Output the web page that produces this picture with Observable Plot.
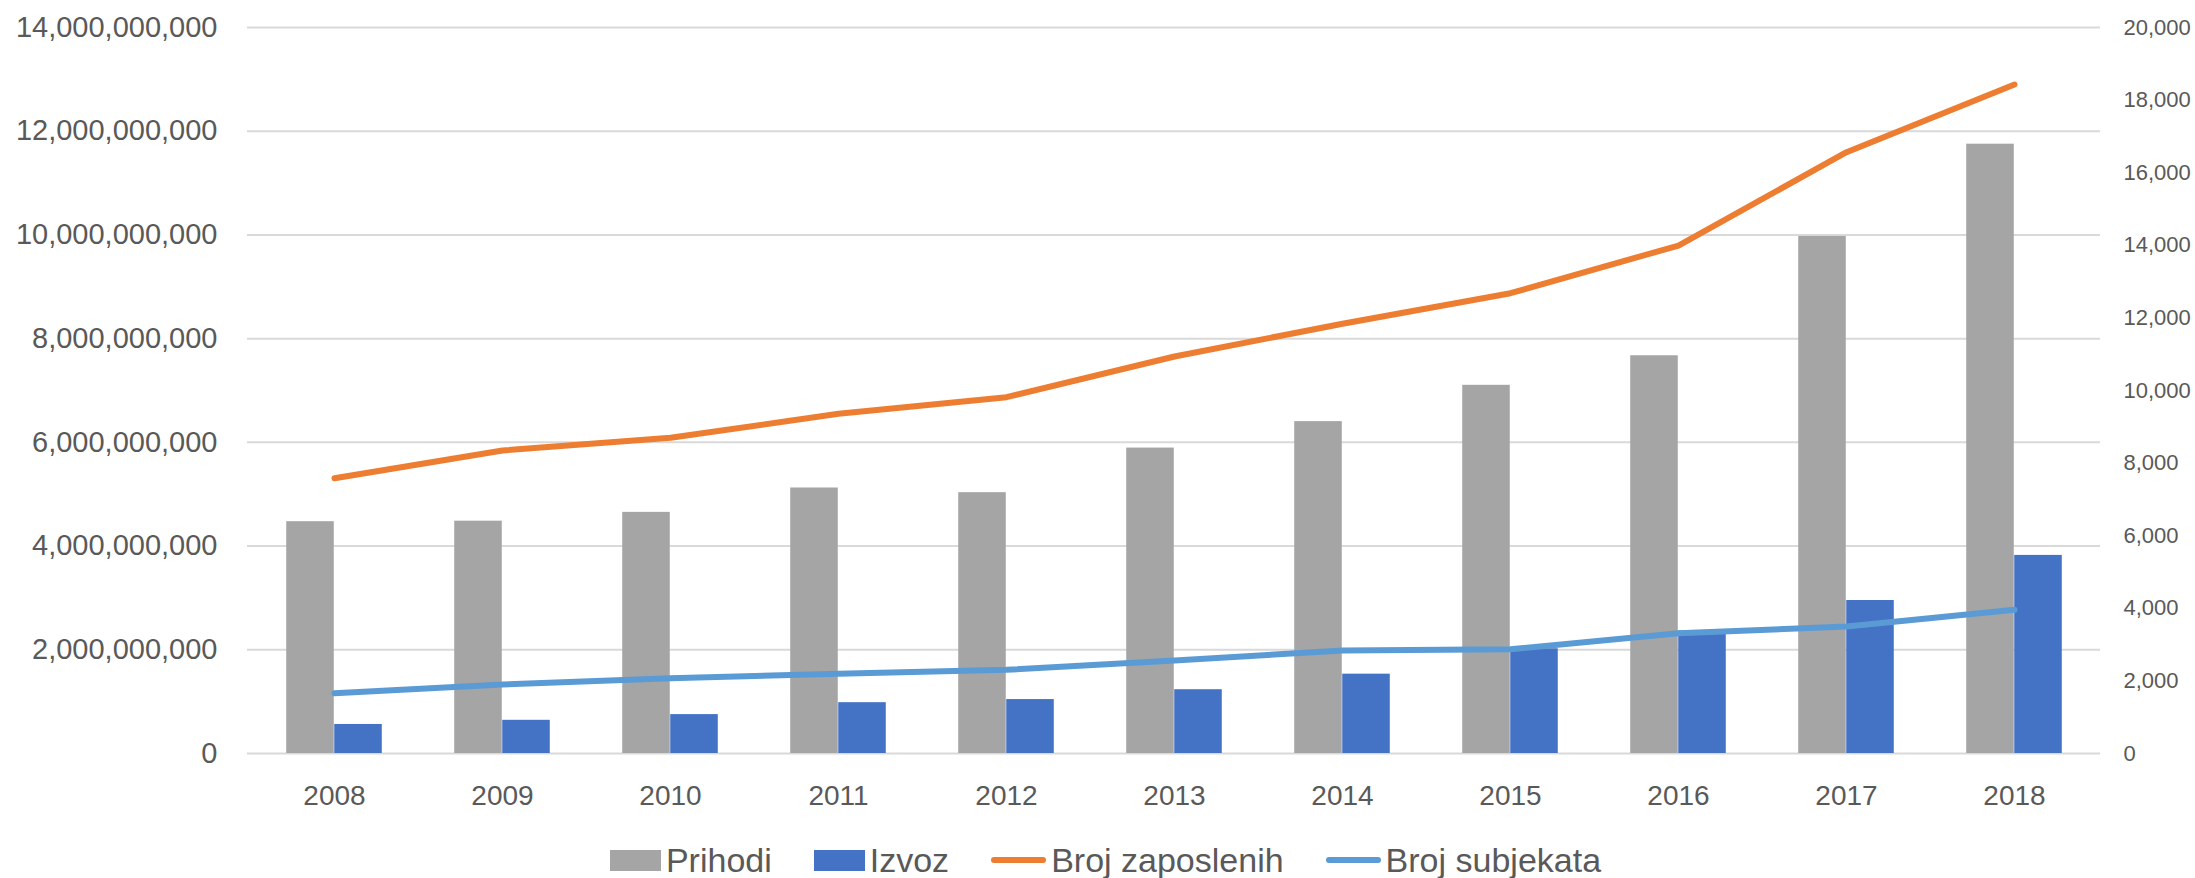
<!DOCTYPE html>
<html>
<head>
<meta charset="utf-8">
<script src="https://cdn.jsdelivr.net/npm/d3@7"></script>
<script src="https://cdn.jsdelivr.net/npm/@observablehq/plot@0.6"></script>
<style>
  html, body { margin: 0; padding: 0; background: #ffffff; }
  body { width: 2195px; height: 878px; overflow: hidden; font-family: "Liberation Sans", Arial, sans-serif; }
  #legend { display: flex; justify-content: center; align-items: center; height: 34px; margin-top: 23px; padding-left: 16px; color: #595959; font-size: 34px; line-height: 34px; }
  .item { display: flex; align-items: center; }
  .item + .item { margin-left: 42px; }
  .rect { width: 51px; height: 21px; margin-right: 5px; }
  .line { width: 55px; height: 6px; border-radius: 3px; margin-right: 5px; }
</style>
</head>
<body>
<div id="chart"></div>
<div id="legend"></div>
<script>
const years = ["2008","2009","2010","2011","2012","2013","2014","2015","2016","2017","2018"];
const prihodi = [4.47e9, 4.48e9, 4.65e9, 5.12e9, 5.03e9, 5.89e9, 6.40e9, 7.10e9, 7.67e9, 9.97e9, 11.75e9];
const izvoz = [0.56e9, 0.64e9, 0.75e9, 0.98e9, 1.04e9, 1.23e9, 1.53e9, 2.02e9, 2.36e9, 2.95e9, 3.82e9];
const brojZaposlenih = [7585, 8347, 8697, 9358, 9816, 10937, 11837, 12680, 13994, 16565, 18430];
const brojSubjekata = [1661, 1900, 2075, 2195, 2306, 2562, 2837, 2870, 3315, 3499, 3958];
const leftTicks = [0, 2e9, 4e9, 6e9, 8e9, 10e9, 12e9, 14e9];
const rightTicks = [0, 2000, 4000, 6000, 8000, 10000, 12000, 14000, 16000, 18000, 20000];
const seriesNames = ["Prihodi", "Izvoz", "Broj zaposlenih", "Broj subjekata"];
const colors = ["#A5A5A5", "#4472C4", "#ED7D31", "#5B9BD5"];

const leftMax = 14e9, rightMax = 20000;
const k = leftMax / rightMax;

const rows = years.map((y, i) => ({year: y, prihodi: prihodi[i], izvoz: izvoz[i], zap: brojZaposlenih[i], sub: brojSubjekata[i]}));

const W = 2195, H = 820, mL = 247, mR = 95, mT = 27, mB = 67;
const bw = (W - mL - mR) / years.length;
const barW = 48;

const chart = Plot.plot({
  width: W, height: H,
  marginLeft: mL, marginRight: mR, marginTop: mT, marginBottom: mB,
  style: {fontFamily: "Liberation Sans, Arial, sans-serif", color: "#595959", background: "#ffffff"},
  x: {type: "band", domain: years, padding: 0, axis: null},
  y: {domain: [0, leftMax], axis: null},
  marks: [
    Plot.gridY(leftTicks, {stroke: "#d9d9d9", strokeOpacity: 1, strokeWidth: 2}),
    Plot.barY(rows, {x: "year", y: "prihodi", fill: colors[0], insetLeft: bw/2 - barW, insetRight: bw/2}),
    Plot.barY(rows, {x: "year", y: "izvoz", fill: colors[1], insetLeft: bw/2, insetRight: bw/2 - barW}),
    Plot.line(rows, {x: "year", y: d => d.zap * k, stroke: colors[2], strokeWidth: 6, strokeLinecap: "round", strokeLinejoin: "round"}),
    Plot.line(rows, {x: "year", y: d => d.sub * k, stroke: colors[3], strokeWidth: 6, strokeLinecap: "round", strokeLinejoin: "round"}),
    Plot.axisY({ticks: leftTicks, tickFormat: d3.format(","), tickSize: 0, tickPadding: 30, fontSize: 29, label: null}),
    Plot.axisY({anchor: "right", ticks: rightTicks.map(v => v * k), tickFormat: d => d3.format(",")(Math.round(d / k)), tickSize: 0, tickPadding: 23, fontSize: 22, label: null}),
    Plot.axisX({tickSize: 0, tickPadding: 32, fontSize: 28, label: null})
  ]
});
document.getElementById("chart").appendChild(chart);

const legend = document.getElementById("legend");
seriesNames.forEach((name, i) => {
  const item = document.createElement("div");
  item.className = "item";
  const sw = document.createElement("div");
  sw.className = i < 2 ? "rect" : "line";
  sw.style.background = colors[i];
  const t = document.createElement("span");
  t.textContent = name;
  item.appendChild(sw);
  item.appendChild(t);
  legend.appendChild(item);
});
</script>
</body>
</html>
